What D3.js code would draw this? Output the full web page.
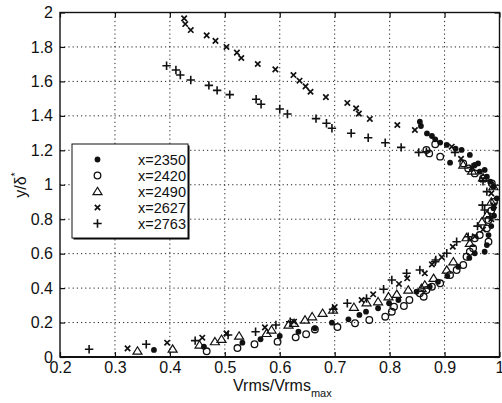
<!DOCTYPE html>
<html><head><meta charset="utf-8">
<script src="https://cdn.jsdelivr.net/npm/d3@7/dist/d3.min.js"></script>
<style>body{margin:0;background:#fff}svg{display:block}text{font-family:"Liberation Sans",Arial,Helvetica,sans-serif;fill:#111}</style>
</head><body><svg id="c" width="502" height="403"></svg>
<script>
// ---- data ----
const seriesNames = ["x=2350","x=2420","x=2490","x=2627","x=2763"];
const s2350 = [[0.371,0.041],[0.462,0.060],[0.532,0.083],[0.565,0.103],[0.600,0.122],[0.634,0.147],[0.664,0.167],[0.695,0.199],[0.725,0.219],[0.745,0.244],[0.757,0.263],[0.779,0.283],[0.799,0.312],[0.816,0.331],[0.849,0.379],[0.873,0.408],[0.888,0.437],[0.905,0.470],[0.925,0.524],[0.945,0.575],[0.955,0.602],[0.973,0.611],[0.977,0.650],[0.980,0.708],[0.985,0.760],[0.990,0.820],[0.989,0.863],[0.995,0.921],[0.989,0.989],[0.983,1.018],[0.977,1.047],[0.973,1.086],[0.964,1.076],[0.961,1.124],[0.955,1.115],[0.946,1.173],[0.931,1.202],[0.920,1.210],[0.904,1.231],[0.910,1.128],[0.892,1.245],[0.883,1.264],[0.877,1.283],[0.868,1.298],[0.857,1.341],[0.855,1.366]];
const s2420 = [[0.467,0.033],[0.523,0.052],[0.554,0.074],[0.596,0.089],[0.629,0.114],[0.648,0.132],[0.664,0.160],[0.705,0.174],[0.737,0.196],[0.763,0.215],[0.792,0.234],[0.804,0.263],[0.808,0.292],[0.826,0.296],[0.836,0.331],[0.862,0.350],[0.855,0.370],[0.867,0.389],[0.877,0.408],[0.892,0.428],[0.910,0.476],[0.922,0.505],[0.934,0.534],[0.940,0.582],[0.946,0.611],[0.952,0.631],[0.955,0.689],[0.964,0.708],[0.980,0.669],[0.977,0.747],[0.980,0.795],[0.985,0.850],[0.990,0.900],[0.986,1.008],[0.970,1.037],[0.955,1.066],[0.943,1.095],[0.934,1.124],[0.892,1.163],[0.872,1.182],[0.867,1.202],[0.883,1.235]];
const s2490 = [[0.341,0.035],[0.405,0.046],[0.454,0.070],[0.482,0.089],[0.494,0.103],[0.526,0.122],[0.576,0.137],[0.585,0.157],[0.616,0.186],[0.626,0.196],[0.646,0.215],[0.659,0.234],[0.678,0.254],[0.697,0.273],[0.735,0.289],[0.758,0.315],[0.779,0.321],[0.798,0.350],[0.813,0.364],[0.834,0.389],[0.858,0.399],[0.864,0.418],[0.880,0.457],[0.904,0.505],[0.916,0.553],[0.946,0.660],[0.940,0.693],[0.968,0.785],[0.977,0.824],[0.985,0.900],[0.989,0.989],[0.970,1.040],[0.950,1.080],[0.934,1.115]];
const s2627 = [[0.426,1.966],[0.428,1.933],[0.438,1.898],[0.467,1.867],[0.483,1.835],[0.503,1.800],[0.522,1.767],[0.530,1.736],[0.560,1.701],[0.592,1.670],[0.625,1.637],[0.636,1.604],[0.647,1.571],[0.656,1.540],[0.684,1.509],[0.723,1.475],[0.739,1.444],[0.744,1.413],[0.764,1.382],[0.814,1.347],[0.846,1.318],[0.913,1.221],[0.930,1.150],[0.950,1.100],[0.970,1.030],[0.985,0.950],[0.990,0.880],[0.985,0.800],[0.970,0.740],[0.955,0.700],[0.915,0.640],[0.895,0.580],[0.877,0.538],[0.864,0.486],[0.832,0.457],[0.817,0.424],[0.770,0.364],[0.749,0.331],[0.700,0.290],[0.626,0.205],[0.573,0.172],[0.503,0.137],[0.459,0.112],[0.395,0.083],[0.323,0.050]];
const s2763 = [[0.394,1.691],[0.411,1.666],[0.419,1.637],[0.438,1.608],[0.471,1.577],[0.486,1.548],[0.509,1.523],[0.557,1.496],[0.566,1.467],[0.600,1.440],[0.614,1.411],[0.666,1.384],[0.685,1.357],[0.695,1.328],[0.730,1.299],[0.761,1.273],[0.792,1.244],[0.821,1.217],[0.853,1.188],[0.867,1.192],[0.919,1.188],[0.950,1.100],[0.970,1.020],[0.977,0.960],[0.969,0.882],[0.973,0.853],[0.983,0.814],[0.960,0.760],[0.943,0.698],[0.922,0.669],[0.904,0.602],[0.884,0.563],[0.883,0.553],[0.855,0.505],[0.831,0.486],[0.804,0.447],[0.789,0.393],[0.758,0.340],[0.723,0.312],[0.697,0.277],[0.619,0.205],[0.593,0.186],[0.556,0.147],[0.506,0.128],[0.446,0.095],[0.357,0.074],[0.253,0.045]];
const xTicks = [0.2,0.3,0.4,0.5,0.6,0.7,0.8,0.9,1];
const yTicks = [0,0.2,0.4,0.6,0.8,1,1.2,1.4,1.6,1.8,2];

// ---- layout ----
const svg = d3.select("#c");
const L=60, R=499.5, T=12.5, B=357;
const x = d3.scaleLinear().domain([0.2,1]).range([L,R]);
const y = d3.scaleLinear().domain([0,2]).range([B,T]);

// grid
const grid = svg.append("g").attr("stroke","#222").attr("stroke-width",1).attr("stroke-dasharray","1.2,3");
grid.selectAll(".gx").data(xTicks.slice(1,-1)).join("line")
  .attr("x1",d=>x(d)).attr("x2",d=>x(d)).attr("y1",T).attr("y2",B);
grid.selectAll(".gy").data(yTicks.slice(1,-1)).join("line")
  .attr("x1",L).attr("x2",R).attr("y1",d=>y(d)).attr("y2",d=>y(d));

// axes (inward ticks)
const fmt = d=>d3.format("")(+d.toFixed(1));
const ax = svg.append("g").attr("transform",`translate(0,${B})`)
  .call(d3.axisBottom(x).tickValues(xTicks).tickSize(-5).tickPadding(5).tickFormat(fmt));
const ax2 = svg.append("g").attr("transform",`translate(0,${T})`)
  .call(d3.axisTop(x).tickValues(xTicks).tickSize(-5).tickFormat(""));
const ay = svg.append("g").attr("transform",`translate(${L},0)`)
  .call(d3.axisLeft(y).tickValues(yTicks).tickSize(-5).tickPadding(7).tickFormat(fmt));
const ay2 = svg.append("g").attr("transform",`translate(${R},0)`)
  .call(d3.axisRight(y).tickValues(yTicks).tickSize(-5).tickFormat(""));
[ax,ax2,ay,ay2].forEach(g=>{
  g.select(".domain").remove();
  g.selectAll(".tick line").attr("stroke","#111").attr("stroke-width",1.2);
  g.selectAll("text").style("font-size","16px").attr("fill","#111");
});
svg.append("rect").attr("x",L).attr("y",T).attr("width",R-L).attr("height",B-T)
  .attr("fill","none").attr("stroke","#111").attr("stroke-width",1.4);
svg.append("line").attr("x1",L).attr("x2",R).attr("y1",B).attr("y2",B).attr("stroke","#111").attr("stroke-width",2);

// markers
function drawMarker(g,type,px,py){
  if(type===0){ g.append("circle").attr("cx",px).attr("cy",py).attr("r",2.9).attr("fill","#111"); }
  else if(type===1){ g.append("circle").attr("cx",px).attr("cy",py).attr("r",3.3).attr("fill","none").attr("stroke","#111").attr("stroke-width",1.3); }
  else if(type===2){ g.append("path").attr("d",`M${px},${py-4.2}L${px+4.5},${py+3.1}L${px-4.5},${py+3.1}Z`).attr("fill","none").attr("stroke","#111").attr("stroke-width",1.2); }
  else if(type===3){ g.append("path").attr("d",`M${px-2.7},${py-2.7}L${px+2.7},${py+2.7}M${px+2.7},${py-2.7}L${px-2.7},${py+2.7}`).attr("stroke","#111").attr("stroke-width",1.7); }
  else { g.append("path").attr("d",`M${px-4.2},${py}L${px+4.2},${py}M${px},${py-4.2}L${px},${py+4.2}`).attr("stroke","#111").attr("stroke-width",1.6); }
}
const allSeries=[s2350,s2420,s2490,s2627,s2763];
const pts = svg.append("g");
allSeries.forEach((s,i)=>s.forEach(d=>drawMarker(pts,i,x(d[0]),y(d[1]))));

// legend
const lg = svg.append("g");
lg.append("rect").attr("x",73.5).attr("y",145.5).attr("width",116).attr("height",94).attr("fill","#000");
lg.append("rect").attr("x",72).attr("y",144).attr("width",116).attr("height",94).attr("fill","#fff").attr("stroke","#111").attr("stroke-width",1);
seriesNames.forEach((n,i)=>{
  const yy = 159.5+i*16;
  drawMarker(lg,i,97.5,yy);
  lg.append("text").attr("x",186).attr("y",yy).attr("dy","0.36em").attr("text-anchor","end").style("font-size","14.5px").text(n);
});

// axis labels
const xl = svg.append("text").attr("x",233).attr("y",391).style("font-size","16px");
xl.append("tspan").text("Vrms/Vrms");
xl.append("tspan").attr("dy",6).style("font-size","11px").text("max");
const yl = svg.append("text").attr("transform","translate(26,185) rotate(-90)").attr("text-anchor","middle").style("font-size","16px");
yl.append("tspan").text("y/δ");
yl.append("tspan").attr("dy",-7).style("font-size","11px").text("*");
</script></body></html>
